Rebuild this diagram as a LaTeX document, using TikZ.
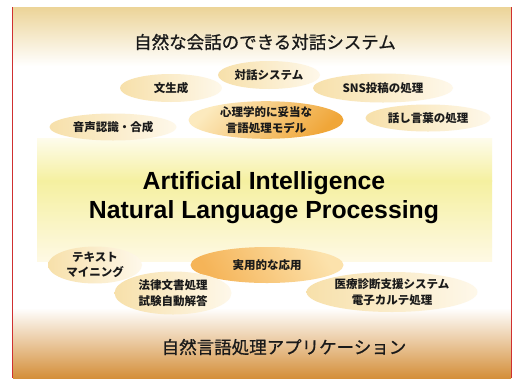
\documentclass[tikz,border=0pt]{standalone}
\usepackage{fontspec}
\setmainfont{Liberation Sans}
\newfontfamily\jp{Noto Sans CJK JP}
\newfontfamily\jpm[UprightFeatures={FakeBold=0.8}]{Noto Sans CJK JP}
\usetikzlibrary{shapes.geometric}
\definecolor{frametop}{RGB}{236,212,152}
\definecolor{framebot}{RGB}{212,143,58}
\definecolor{frameline}{RGB}{208,48,48}
\definecolor{bandtop}{RGB}{254,252,236}
\definecolor{bandmid}{RGB}{245,240,160}
\definecolor{bandbot}{RGB}{254,249,228}
\definecolor{elltan}{RGB}{247,224,170}
\definecolor{ellpale}{RGB}{254,248,234}
\definecolor{orlight}{RGB}{252,234,190}
\definecolor{ordark}{RGB}{240,166,56}
\definecolor{or2dark}{RGB}{245,180,88}
\definecolor{or2light}{RGB}{252,226,172}
\definecolor{txt}{RGB}{26,26,26}
\begin{document}
\begin{tikzpicture}[x=1pt,y=-1pt,
  ell/.style={ellipse, inner sep=0pt, align=center, text=txt,
    font=\jp\bfseries\fontsize{11.5}{15.5}\selectfont},
  lightell/.style={ell, left color=elltan, right color=ellpale},
  title/.style={text=txt, font=\jpm\fontsize{17.5}{20}\selectfont},
  aitext/.style={text=black, align=center, font=\bfseries\fontsize{24.8}{29}\selectfont}]
\useasboundingbox (0,0) rectangle (513,378);
\fill[white] (0,0) rectangle (513,378);
% frame
\shade[top color=frametop, bottom color=white] (13,7) rectangle (511,66);
\shade[top color=white, bottom color=framebot] (13,308) rectangle (511,378);
\draw[frameline, line width=1.5pt] (12.5,7) -- (12.5,378);
\draw[frameline, line width=1.5pt] (511.5,7) -- (511.5,378);
% middle band
\shade[top color=bandtop, bottom color=bandmid] (37,138) rectangle (492,181);
\shade[top color=bandmid, bottom color=bandbot] (37,180.5) rectangle (492,261);
% titles
\node[title] (ttop) at (265,42) {自然な会話のできる対話システム};
\node[title] (tbot) at (284,347) {自然言語処理アプリケーション};
% top ellipses
\node[lightell, minimum width=102pt, minimum height=28pt] (bun) at (171,88) {文生成};
\node[lightell, minimum width=102pt, minimum height=28pt] (taiwa) at (269,75) {対話システム};
\node[lightell, minimum width=140pt, minimum height=29pt] (sns) at (383,88) {SNS投稿の処理};
\node[lightell, minimum width=127pt, minimum height=27pt] (onsei) at (113,127) {音声認識・合成};
\node[ell, minimum width=155pt, minimum height=36pt, top color=orlight, bottom color=ordark, shading angle=45] (shinri) at (266,120) {心理学的に妥当な\\言語処理モデル};
\node[lightell, minimum width=125pt, minimum height=27pt] (hanashi) at (428,118) {話し言葉の処理};
% AI text
\node[aitext] (ai) at (264,183) {Artificial Intelligence};
\node[aitext] (nlp) at (264,212) {Natural Language Processing};
% bottom ellipses
\node[lightell, minimum width=94pt, minimum height=34pt] (text) at (95,265) {テキスト\\マイニング};
\node[ell, minimum width=153pt, minimum height=36pt, left color=or2dark, right color=or2light, shading angle=120] (jitsu) at (267,265) {実用的な応用};
\node[lightell, minimum width=117pt, minimum height=43pt] (houritsu) at (173,293) {法律文書処理\\試験自動解答};
\node[lightell, minimum width=171pt, minimum height=40pt] (iryou) at (392,292) {医療診断支援システム\\電子カルテ処理};
\end{tikzpicture}
\end{document}
